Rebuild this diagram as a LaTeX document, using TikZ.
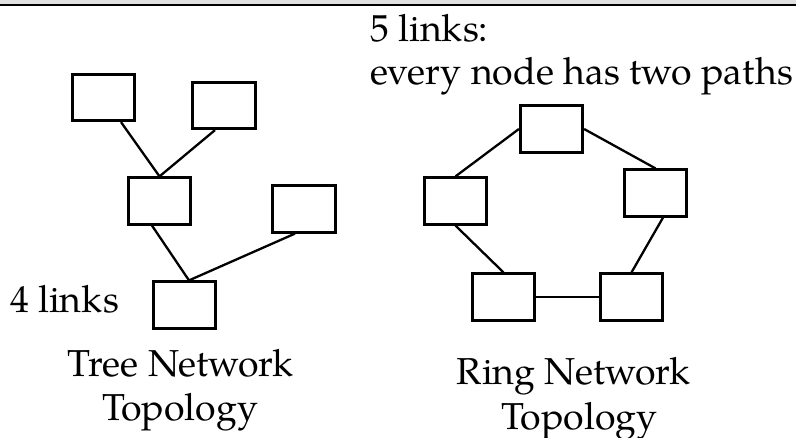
\documentclass[tikz,border=0pt]{standalone}
\usepackage{fontspec}
\setmainfont{TeX Gyre Pagella}
\begin{document}
\begin{tikzpicture}[x=1pt,y=-1pt,
  host/.style={draw=black,line width=2.7pt,minimum width=62.5pt,minimum height=46.5pt,inner sep=0pt},
  link/.style={draw=black,line width=2.3pt},
  lbl/.style={inner sep=0pt,font=\fontsize{37.5}{44}\selectfont}]
\useasboundingbox (0,0) rectangle (796,438);
% header rule
\fill[black!12] (0,0) rectangle (796,4.2);
\draw[line width=1.3pt] (0,5) -- (796,5);

% tree topology
\node[host] (ta) at (103.5,97.5) {};
\node[host] (tb) at (224,105.5) {};
\node[host] (tc) at (159.5,201) {};
\node[host] (td) at (304,209) {};
\node[host] (te) at (184.5,305) {};
\draw[link] ([xshift=17.5pt]ta.south) -- (tc.north);
\draw[link] ([xshift=-9pt]tb.south) -- (tc.north);
\draw[link] ([xshift=-7.5pt]tc.south) -- ([xshift=4.5pt]te.north);
\draw[link] ([xshift=-9pt]td.south) -- ([xshift=4.5pt]te.north);

% ring topology
\node[host] (rt) at (551.5,129) {};
\node[host] (rl) at (455.5,201) {};
\node[host] (rr) at (655.5,193) {};
\node[host] (rbl) at (503.5,297) {};
\node[host] (rbr) at (631.5,297) {};
\draw[link] (rl.north) -- (rt.west);
\draw[link] (rt.east) -- (rr.north);
\draw[link] ([xshift=7.5pt]rr.south) -- (rbr.north);
\draw[link] (rl.south) -- (rbl.north);
\draw[link] (rbl.east) -- (rbr.west);

% labels
\node[lbl,anchor=base west] (l5) at (370,42) {5 links:};
\node[lbl,anchor=base west] (lpaths) at (370,85) {every node has two paths};
\node[lbl,anchor=base west] (l4) at (10,313) {4 links};
\node[lbl,anchor=base] (ttitle) at (180.5,377) {Tree Network};
\node[lbl,anchor=base] (ttopo) at (180,421) {Topology};
\node[lbl,anchor=base] (rtitle) at (573.5,385) {Ring Network};
\node[lbl,anchor=base] (rtopo) at (579.5,430) {Topology};
\end{tikzpicture}
\end{document}
